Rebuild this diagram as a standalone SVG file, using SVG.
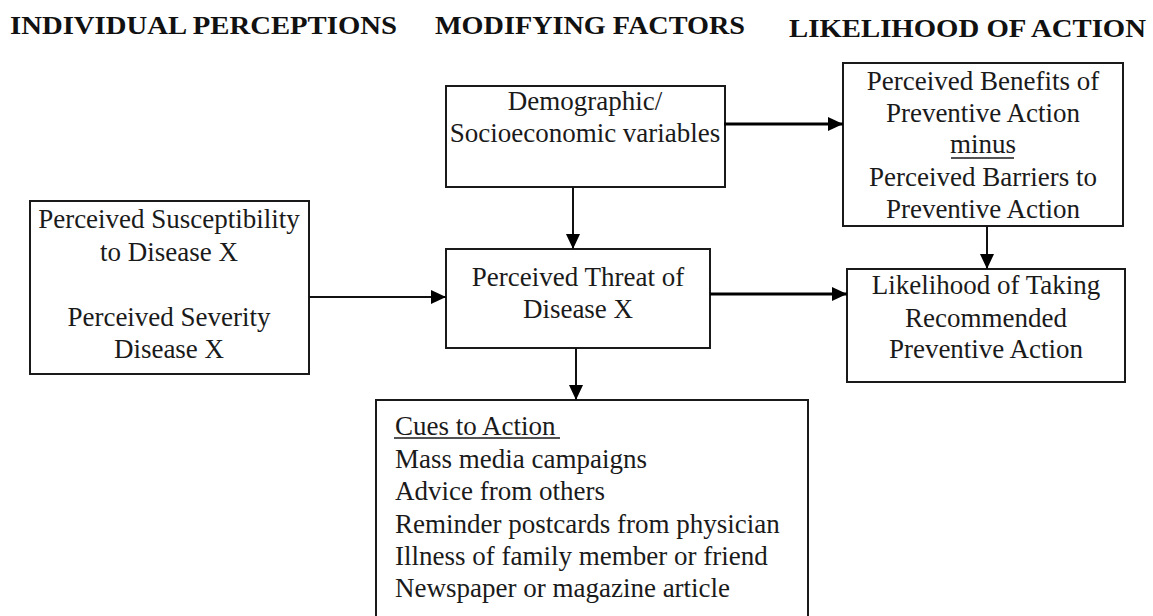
<svg xmlns="http://www.w3.org/2000/svg" width="1153" height="616" viewBox="0 0 1153 616">
  <style>
    .box { fill: #ffffff; stroke: #1a1a1a; stroke-width: 2; }
    .hdr { font-family: "Liberation Serif", "Times New Roman", serif; font-weight: bold; font-size: 26px; fill: #111; }
    .txt { font-family: "Liberation Serif", "Times New Roman", serif; font-size: 27px; fill: #1a1a1a; }
    .mid { text-anchor: middle; }
    .thick { stroke: #000; stroke-width: 3.2; fill: none; }
    .thin { stroke: #111; stroke-width: 2; fill: none; }
    .ul { stroke: #1a1a1a; stroke-width: 1.4; }
  </style>
  <defs>
    <marker id="head" markerUnits="userSpaceOnUse" markerWidth="16" markerHeight="14" refX="15" refY="7" orient="auto">
      <path d="M0,0 L15,7 L0,14 Z" fill="#000"/>
    </marker>
  </defs>
  <rect width="1153" height="616" fill="#ffffff"/>

  <!-- column headings -->
  <g id="headings">
    <text class="hdr" x="10" y="34" textLength="387" lengthAdjust="spacingAndGlyphs">INDIVIDUAL PERCEPTIONS</text>
    <text class="hdr" x="435" y="34" textLength="310" lengthAdjust="spacingAndGlyphs">MODIFYING FACTORS</text>
    <text class="hdr" x="789" y="37" textLength="357" lengthAdjust="spacingAndGlyphs">LIKELIHOOD OF ACTION</text>
  </g>

  <g id="demographic">
    <rect class="box" x="446" y="86" width="279" height="101"/>
    <text class="txt mid" x="585" y="110">Demographic/</text>
    <text class="txt mid" x="585" y="142">Socioeconomic variables</text>
  </g>

  <g id="benefits">
    <rect class="box" x="843" y="63" width="280" height="163"/>
    <text class="txt mid" x="983" y="90">Perceived Benefits of</text>
    <text class="txt mid" x="983" y="122">Preventive Action</text>
    <text class="txt mid" x="983" y="153">minus</text>
    <line class="ul" x1="951" y1="158" x2="1014" y2="158"/>
    <text class="txt mid" x="983" y="186">Perceived Barriers to</text>
    <text class="txt mid" x="983" y="218">Preventive Action</text>
  </g>

  <g id="susceptibility">
    <rect class="box" x="30" y="201" width="279" height="173"/>
    <text class="txt mid" x="169" y="228">Perceived Susceptibility</text>
    <text class="txt mid" x="169" y="261">to Disease X</text>
    <text class="txt mid" x="169" y="326">Perceived Severity</text>
    <text class="txt mid" x="169" y="358">Disease X</text>
  </g>

  <g id="threat">
    <rect class="box" x="446" y="249" width="264" height="99"/>
    <text class="txt mid" x="578" y="286">Perceived Threat of</text>
    <text class="txt mid" x="578" y="318">Disease X</text>
  </g>

  <g id="likelihood">
    <rect class="box" x="847" y="269" width="278" height="113"/>
    <text class="txt mid" x="986" y="294">Likelihood of Taking</text>
    <text class="txt mid" x="986" y="327">Recommended</text>
    <text class="txt mid" x="986" y="358">Preventive Action</text>
  </g>

  <g id="cues">
    <rect class="box" x="376" y="400" width="432" height="240"/>
    <text class="txt" x="395" y="435">Cues to Action</text>
    <line class="ul" x1="394" y1="438" x2="560" y2="438"/>
    <text class="txt" x="395" y="468">Mass media campaigns</text>
    <text class="txt" x="395" y="500">Advice from others</text>
    <text class="txt" x="395" y="533">Reminder postcards from physician</text>
    <text class="txt" x="395" y="565">Illness of family member or friend</text>
    <text class="txt" x="395" y="597">Newspaper or magazine article</text>
  </g>

  <g id="connectors">
    <line class="thick" x1="724" y1="124" x2="843" y2="124" marker-end="url(#head)"/>
    <line class="thin" x1="573" y1="187" x2="573" y2="249" marker-end="url(#head)"/>
    <line class="thin" x1="309" y1="297" x2="446" y2="297" marker-end="url(#head)"/>
    <line class="thick" x1="710" y1="294" x2="847" y2="294" marker-end="url(#head)"/>
    <line class="thin" x1="987" y1="226" x2="987" y2="269" marker-end="url(#head)"/>
    <line class="thin" x1="576" y1="348" x2="576" y2="400" marker-end="url(#head)"/>
  </g>
</svg>
